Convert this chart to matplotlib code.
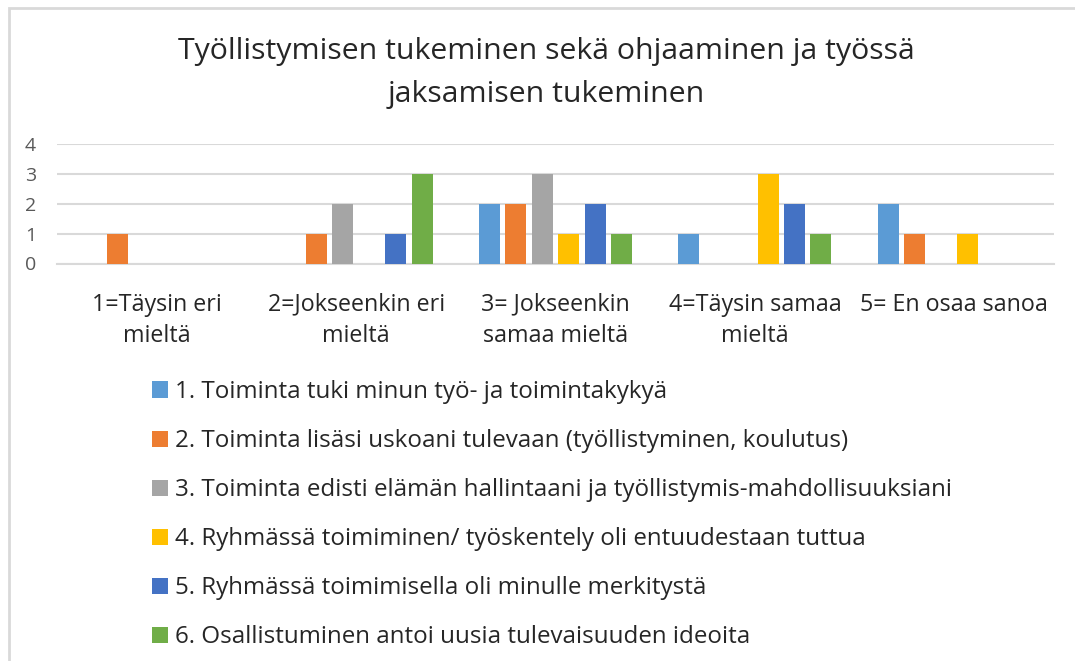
import matplotlib
matplotlib.use("Agg")
import matplotlib.pyplot as plt
import numpy as np
from matplotlib.patches import Rectangle

plt.rcParams['font.family'] = ['Open Sans', 'DejaVu Sans']

title = "Työllistymisen tukeminen sekä ohjaaminen ja työssä\njaksamisen tukeminen"
categories = ["1=Täysin eri\nmieltä", "2=Jokseenkin eri\nmieltä", "3= Jokseenkin\nsamaa mieltä",
              "4=Täysin samaa\nmieltä", "5= En osaa sanoa"]
series_names = [
    "1. Toiminta tuki minun työ- ja toimintakykyä",
    "2. Toiminta lisäsi uskoani tulevaan (työllistyminen, koulutus)",
    "3. Toiminta edisti elämän hallintaani ja työllistymis-mahdollisuuksiani",
    "4. Ryhmässä toimiminen/ työskentely oli entuudestaan tuttua",
    "5. Ryhmässä toimimisella oli minulle merkitystä",
    "6. Osallistuminen antoi uusia tulevaisuuden ideoita",
]
s1 = [0, 0, 2, 1, 2]
s2 = [1, 1, 2, 0, 1]
s3 = [0, 2, 3, 0, 0]
s4 = [0, 0, 1, 3, 1]
s5 = [0, 1, 2, 2, 0]
s6 = [0, 3, 1, 1, 0]
series = [s1, s2, s3, s4, s5, s6]
colors = ["#5B9BD5", "#ED7D31", "#A5A5A5", "#FFC000", "#4472C4", "#70AD47"]
yticks = [0, 1, 2, 3, 4]

W, H = 1075, 661
fig = plt.figure(figsize=(W / 100, H / 100), dpi=100)
renderer = fig.canvas.get_renderer()


def fit_size(text, target_px, base=16):
    t = fig.text(0, 0, text, fontsize=base)
    w = t.get_window_extent(renderer).width
    t.remove()
    return base * target_px / w


title_fs = fit_size(title.split("\n")[0], 737)
legend_fs = fit_size(series_names[2], 776)
cat_fs = fit_size(categories[1].split("\n")[0], 178)

ax = fig.add_axes([57 / W, 1 - 263.5 / H, (1054 - 57) / W, (263.5 - 144) / H])

x = np.arange(len(categories))
pitch = 0.1324
bw = 0.105
handles = []
for i, (vals, c, name) in enumerate(zip(series, colors, series_names)):
    b = ax.bar(x + (i - 2.5) * pitch, vals, width=bw, color=c, linewidth=0, label=name, zorder=3)
    handles.append(b)

ax.set_xlim(-0.5, len(categories) - 0.5)
ax.set_ylim(0, 4)
ax.set_yticks(yticks)
ax.set_xticks(x)
ax.set_xticklabels(categories, fontsize=cat_fs, color="#262626", linespacing=1.42)
ax.tick_params(axis='y', length=0, pad=15, labelsize=14, labelcolor="#595959")
ax.tick_params(axis='x', length=0, pad=21)
ax.grid(axis='y', color="#d9d9d9", linewidth=1.5, zorder=0)
for s in ['top', 'right', 'left']:
    ax.spines[s].set_visible(False)
ax.spines['bottom'].set_color("#d9d9d9")
ax.spines['bottom'].set_linewidth(1.5)
ax.set_axisbelow(True)

fig.text(546.5 / W, 1 - 73 / H, title, ha='center', va='center', fontsize=title_fs,
         color="#262626", linespacing=1.68)

fig.legend(handles=handles, labels=series_names, loc='upper left',
           bbox_to_anchor=(152 / W, 1 - 380 / H), frameon=False, fontsize=legend_fs,
           handlelength=0.65, handleheight=0.65, handletextpad=0.3, labelspacing=1.04,
           borderpad=0, borderaxespad=0, labelcolor="#262626")

fig.add_artist(Rectangle((9 / W, -0.1), 1.2, 1 - 8 / H + 0.1, transform=fig.transFigure,
                         fill=False, edgecolor="#d9d9d9", linewidth=2))

fig.savefig("out.png", dpi=100)
